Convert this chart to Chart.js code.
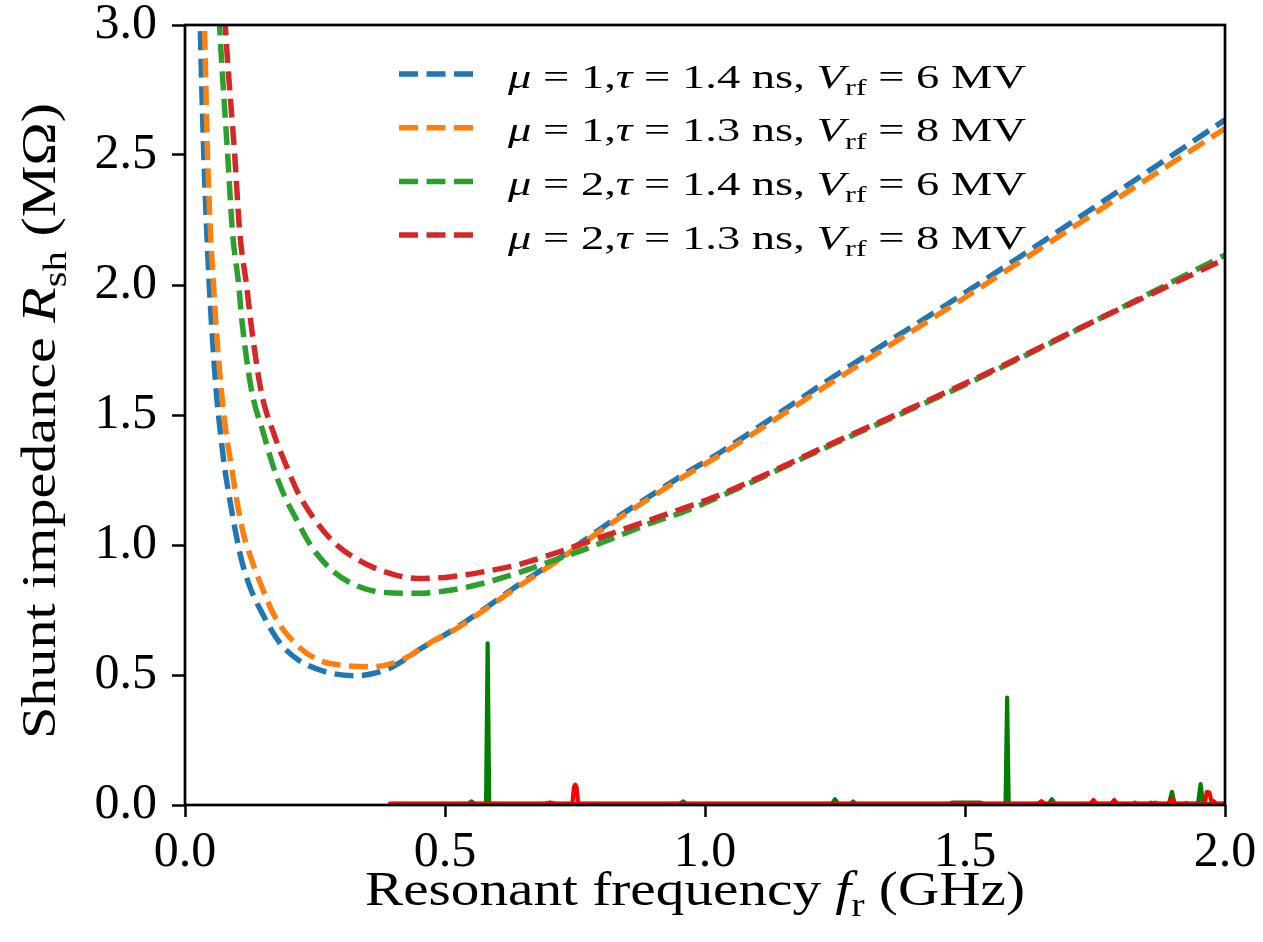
<!DOCTYPE html>
<html>
<head>
<meta charset="utf-8">
<script src="https://cdn.jsdelivr.net/npm/chart.js@4.4.1/dist/chart.umd.min.js"></script>
<style>
html,body{margin:0;padding:0;background:#fff;}
#wrap{width:1263px;height:942px;position:relative;}
</style>
</head>
<body>
<div id="wrap"><canvas id="c" width="1263" height="942"></canvas></div>
<script>
// ---------------- data ----------------
const xTickLabels = ['0.0', '0.5', '1.0', '1.5', '2.0'];
const yTickLabels = ['0.0', '0.5', '1.0', '1.5', '2.0', '2.5', '3.0'];

// mu = 1, tau = 1.4 ns, Vrf = 6 MV
const blueF = [0.025, 0.0298, 0.0362, 0.0419, 0.0467, 0.0512, 0.0602, 0.0679, 0.0760, 0.0852, 0.0965, 0.1096, 0.125, 0.147, 0.183, 0.218, 0.269, 0.327, 0.385, 0.418, 0.449, 0.510, 0.574, 0.638, 0.702, 0.766, 0.830, 0.894, 0.958, 1.022, 1.247, 1.503, 1.760, 2.000];
const blueR = [3.40, 2.954, 2.50, 2.204, 2.00, 1.846, 1.588, 1.435, 1.30, 1.185, 1.058, 0.935, 0.838, 0.743, 0.622, 0.558, 0.513, 0.497, 0.519, 0.553, 0.596, 0.667, 0.752, 0.842, 0.925, 1.015, 1.105, 1.188, 1.270, 1.347, 1.647, 1.974, 2.314, 2.635];

// mu = 1, tau = 1.3 ns, Vrf = 8 MV
const orangeF = [0.032, 0.0379, 0.0433, 0.049, 0.0548, 0.0596, 0.0702, 0.0788, 0.0894, 0.0994, 0.1121, 0.1283, 0.1475, 0.173, 0.2115, 0.2563, 0.3077, 0.359, 0.4167, 0.4808, 0.510, 0.574, 0.638, 0.702, 0.766, 0.830, 0.894, 0.958, 1.022, 1.247, 1.503, 1.760, 2.000];
const orangeR = [3.40, 2.954, 2.50, 2.204, 2.00, 1.846, 1.588, 1.435, 1.30, 1.173, 1.045, 0.942, 0.84, 0.724, 0.622, 0.558, 0.536, 0.532, 0.558, 0.635, 0.664, 0.748, 0.836, 0.920, 1.008, 1.097, 1.180, 1.262, 1.338, 1.630, 1.956, 2.290, 2.602];

// mu = 2, tau = 1.4 ns, Vrf = 6 MV
const greenF = [0.058, 0.0677, 0.0821, 0.0913, 0.1033, 0.1096, 0.1275, 0.1513, 0.1698, 0.189, 0.2115, 0.2437, 0.2821, 0.3269, 0.3846, 0.4487, 0.5129, 0.5737, 0.6379, 0.7019, 0.766, 0.830, 0.894, 0.958, 1.0225, 1.2467, 1.503, 1.76, 2.0];
const greenR = [3.35, 2.954, 2.50, 2.204, 2.00, 1.86, 1.60, 1.427, 1.301, 1.199, 1.109, 0.993, 0.904, 0.846, 0.817, 0.814, 0.827, 0.853, 0.891, 0.936, 0.981, 1.032, 1.083, 1.127, 1.181, 1.388, 1.619, 1.872, 2.115];

// mu = 2, tau = 1.3 ns, Vrf = 8 MV
const redF = [0.068, 0.0788, 0.0956, 0.1052, 0.1183, 0.1273, 0.1467, 0.171, 0.1956, 0.2179, 0.25, 0.2885, 0.3333, 0.3846, 0.4487, 0.5129, 0.5737, 0.6379, 0.7019, 0.766, 0.830, 0.894, 0.958, 1.0225, 1.2467, 1.503, 1.76, 2.0];
const redR = [3.35, 2.954, 2.50, 2.204, 2.00, 1.846, 1.588, 1.427, 1.301, 1.199, 1.096, 1.006, 0.942, 0.897, 0.871, 0.878, 0.897, 0.923, 0.962, 1.006, 1.051, 1.096, 1.141, 1.188, 1.393, 1.624, 1.872, 2.10];

// impedance spectrum, green solid
const greenSpecF = [0.40, 0.545, 0.551, 0.557, 0.579, 0.582, 0.585, 0.952, 0.958, 0.964, 1.244, 1.250, 1.256, 1.280, 1.285, 1.290, 1.470, 1.475, 1.530, 1.535, 1.578, 1.581, 1.584, 1.661, 1.667, 1.673, 1.892, 1.898, 1.903, 1.948, 1.953, 1.958, 2.0];
const greenSpecR = [0.004, 0.004, 0.014, 0.004, 0.004, 0.622, 0.004, 0.004, 0.014, 0.004, 0.004, 0.022, 0.004, 0.004, 0.014, 0.004, 0.004, 0.009, 0.009, 0.004, 0.004, 0.413, 0.004, 0.004, 0.022, 0.004, 0.004, 0.050, 0.004, 0.004, 0.080, 0.004, 0.004];

// impedance spectrum, red solid
const redSpecF = [0.394, 0.690, 0.702, 0.714, 0.745, 0.748, 0.7505, 0.753, 0.756, 1.641, 1.647, 1.653, 1.741, 1.747, 1.753, 1.781, 1.787, 1.793, 1.823, 1.827, 1.831, 1.854, 1.858, 1.862, 1.866, 1.870, 1.892, 1.898, 1.904, 1.923, 1.926, 1.929, 1.961, 1.965, 1.970, 1.974, 1.978, 1.983, 2.0];
const redSpecR = [0.005, 0.005, 0.009, 0.005, 0.005, 0.070, 0.078, 0.070, 0.005, 0.005, 0.015, 0.005, 0.005, 0.019, 0.005, 0.005, 0.019, 0.005, 0.005, 0.009, 0.005, 0.005, 0.009, 0.006, 0.009, 0.005, 0.005, 0.025, 0.005, 0.005, 0.008, 0.005, 0.005, 0.050, 0.048, 0.012, 0.015, 0.005, 0.005];

// legend labels as rich-text pieces: [text, kind] kind: n normal, i italic, s subscript
const seriesLabels = [
  [['μ','i'],[' = 1,','n'],['τ','i'],[' = 1.4 ns, ','n'],['V','i'],['rf','s'],[' = 6 MV','n']],
  [['μ','i'],[' = 1,','n'],['τ','i'],[' = 1.3 ns, ','n'],['V','i'],['rf','s'],[' = 8 MV','n']],
  [['μ','i'],[' = 2,','n'],['τ','i'],[' = 1.4 ns, ','n'],['V','i'],['rf','s'],[' = 6 MV','n']],
  [['μ','i'],[' = 2,','n'],['τ','i'],[' = 1.3 ns, ','n'],['V','i'],['rf','s'],[' = 8 MV','n']]
];
const xTitle = [['Resonant frequency ','n'],['f','i'],['r','s'],[' (GHz)','n']];
const yTitle = [['Shunt impedance ','n'],['R','i'],['sh','s'],[' (MΩ)','n']];

// ---------------- styling / drawing ----------------
const FAMILY = '"Liberation Serif", "Times New Roman", serif';
const COLORS = ['#1f77b4', '#ff7f0e', '#2ca02c', '#d62728'];

function pts(fs, rs) { return fs.map((f, i) => ({ x: f, y: rs[i] })); }

function fontFor(kind, size) {
  if (kind === 'i') return 'italic ' + size + 'px ' + FAMILY;
  if (kind === 's') return (size * 0.7) + 'px ' + FAMILY;
  return size + 'px ' + FAMILY;
}
function drawRich(ctx, pieces, x, y, size, align, targetW) {
  let total = 0;
  const ws = pieces.map(p => { ctx.font = fontFor(p[1], size); const w = ctx.measureText(p[0]).width; total += w; return w; });
  const sx = targetW ? targetW / total : 1;
  ctx.save();
  ctx.translate(x, y);
  ctx.scale(sx, 1);
  let cx = align === 'center' ? -total / 2 : 0;
  ctx.textBaseline = 'alphabetic';
  ctx.textAlign = 'left';
  ctx.fillStyle = '#000';
  pieces.forEach((p, i) => {
    ctx.font = fontFor(p[1], size);
    ctx.fillText(p[0], cx, p[1] === 's' ? size * 0.22 : 0);
    cx += ws[i];
  });
  ctx.restore();
}

const decor = {
  id: 'decor',
  afterDraw(chart) {
    const ctx = chart.ctx, a = chart.chartArea;
    ctx.save();
    // frame
    ctx.strokeStyle = '#000';
    ctx.lineWidth = 2.7;
    ctx.setLineDash([]);
    ctx.strokeRect(a.left, a.top, a.right - a.left, a.bottom - a.top);
    // legend
    for (let i = 0; i < 4; i++) {
      const y = 74 + i * 53.7;
      ctx.beginPath();
      ctx.strokeStyle = COLORS[i];
      ctx.lineWidth = 5.5;
      ctx.setLineDash([19, 8.5]);
      ctx.moveTo(399, y);
      ctx.lineTo(477, y);
      ctx.stroke();
      ctx.setLineDash([]);
      drawRich(ctx, seriesLabels[i], 508, y + 13.5, 34, 'left', 518);
    }
    // axis titles
    drawRich(ctx, xTitle, 695, 905, 49, 'center', 660);
    ctx.save();
    ctx.translate(55, 421);
    ctx.rotate(-Math.PI / 2);
    drawRich(ctx, yTitle, 0, 0, 49, 'center', 636);
    ctx.restore();
    ctx.restore();
  }
};

function dashed(fs, rs, color) {
  return {
    data: pts(fs, rs), borderColor: color, borderWidth: 5.5, borderDash: [19, 8.5],
    pointRadius: 0, showLine: true, fill: false, cubicInterpolationMode: 'monotone', clip: 0
  };
}
function solid(fs, rs, color) {
  return {
    data: pts(fs, rs), borderColor: color, borderWidth: 4.2, pointRadius: 0, showLine: true,
    fill: false, tension: 0, borderJoinStyle: 'round', borderCapStyle: 'round', clip: 0
  };
}

new Chart(document.getElementById('c'), {
  type: 'scatter',
  data: {
    datasets: [
      dashed(redF, redR, COLORS[3]),
      dashed(greenF, greenR, COLORS[2]),
      dashed(orangeF, orangeR, COLORS[1]),
      dashed(blueF, blueR, COLORS[0]),
      solid(redSpecF, redSpecR, '#ff0000'),
      solid(greenSpecF, greenSpecR, '#008000')
    ]
  },
  options: {
    responsive: false,
    animation: false,
    devicePixelRatio: 1,
    layout: { padding: { left: 0, right: 38, top: 25, bottom: 0 } },
    plugins: { legend: { display: false }, tooltip: { enabled: false } },
    scales: {
      x: {
        type: 'linear', min: 0, max: 2,
        border: { display: false },
        grid: { drawOnChartArea: false, drawTicks: true, tickLength: 12, tickColor: '#000', tickWidth: 2.5 },
        ticks: {
          stepSize: 0.5, color: '#000', padding: 6, maxRotation: 0,
          font: { family: FAMILY, size: 50 },
          callback: (v) => xTickLabels[Math.round(v / 0.5)]
        },
        afterFit: (s) => { s.height = 137; s.paddingLeft = 0; s.paddingRight = 0; }
      },
      y: {
        type: 'linear', min: 0, max: 3,
        border: { display: false },
        grid: { drawOnChartArea: false, drawTicks: true, tickLength: 13, tickColor: '#000', tickWidth: 2.5 },
        ticks: {
          stepSize: 0.5, color: '#000', padding: 15,
          font: { family: FAMILY, size: 50 },
          callback: (v) => yTickLabels[Math.round(v / 0.5)]
        },
        afterFit: (s) => { s.width = 185; s.paddingTop = 0; s.paddingBottom = 0; }
      }
    }
  },
  plugins: [decor]
});
</script>
</body>
</html>
